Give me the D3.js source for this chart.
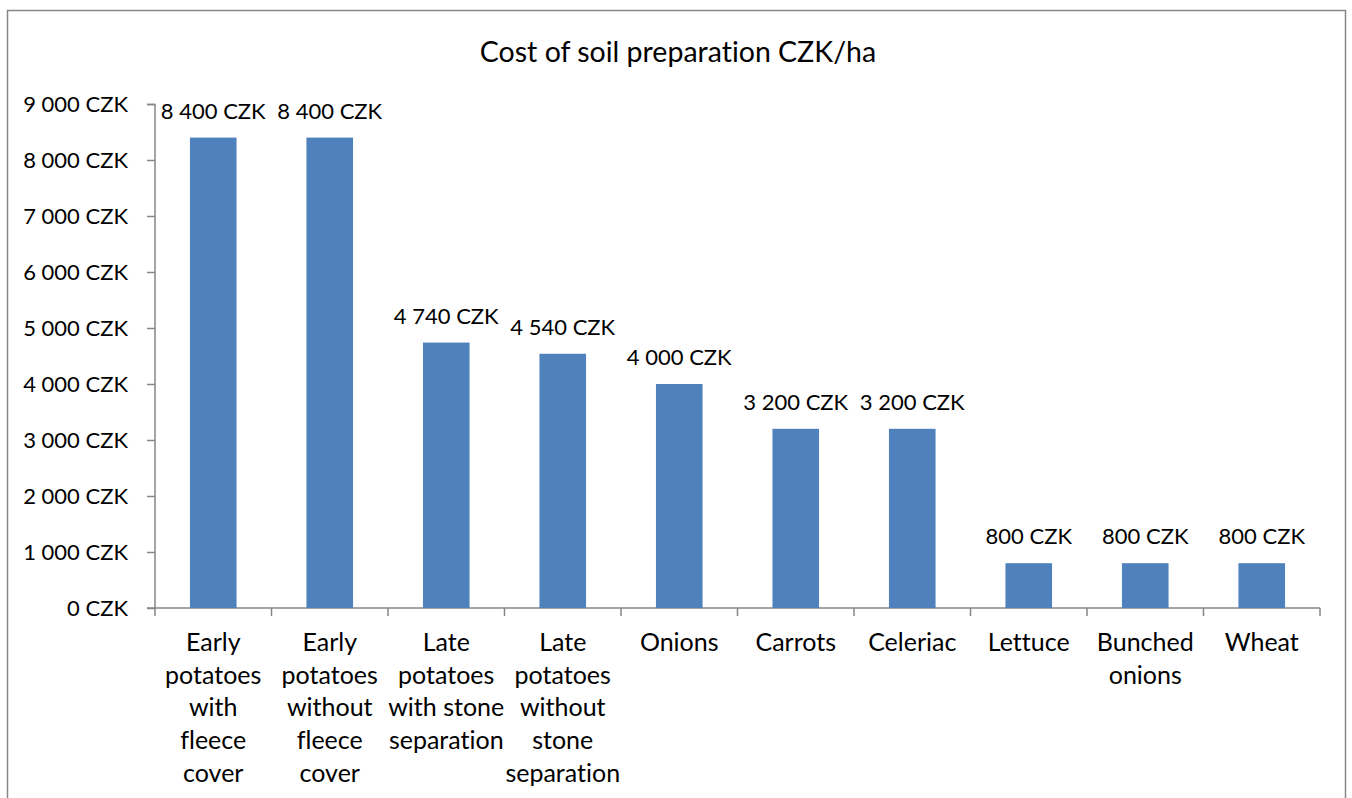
<html>
<head>
<meta charset="utf-8">
<script src="https://cdn.jsdelivr.net/npm/d3@7"></script>
<style>
  body { margin: 0; background: #fff; }
  text { font-family: Lato, "Open Sans", sans-serif; fill: #000; font-variant-ligatures: none; }
</style>
</head>
<body>
<svg width="1352" height="798"></svg>
<script>
// crops and their cost (CZK/ha)
var categories = [
    ["Early", "potatoes", "with", "fleece", "cover"],
    ["Early", "potatoes", "without", "fleece", "cover"],
    ["Late", "potatoes", "with stone", "separation"],
    ["Late", "potatoes", "without", "stone", "separation"],
    ["Onions"],
    ["Carrots"],
    ["Celeriac"],
    ["Lettuce"],
    ["Bunched", "onions"],
    ["Wheat"]
];
var costs = [8400, 8400, 4740, 4540, 4000, 3200, 3200, 800, 800, 800];
var yTicks = [0, 1000, 2000, 3000, 4000, 5000, 6000, 7000, 8000, 9000];

var svg = d3.select("svg");

// outer chart border
svg.append("rect")
    .attr("x", 7.5).attr("y", 10.5)
    .attr("width", 1338).attr("height", 820)
    .attr("fill", "none")
    .attr("stroke", "#868686")
    .attr("stroke-width", 1.5);

svg.append("text")
    .attr("x", 678).attr("y", 62)
    .attr("text-anchor", "middle")
    .style("font-size", "28.5px")
    .text("Cost of soil preparation CZK/ha");

var x = d3.scaleBand()
    .domain(d3.range(categories.length))
    .range([155, 1320]);

var y = d3.scaleLinear()
    .domain([0, 9000])
    .range([608, 104]);

var fmt = function(v) {
    return d3.format(",")(v).replace(/,/g, " ") + " CZK";
};

// y axis
var yAxis = svg.append("g")
    .attr("transform", "translate(155,0)")
    .call(d3.axisLeft(y).tickValues(yTicks).tickSize(8).tickPadding(19).tickFormat(fmt));
yAxis.selectAll("line, path").attr("stroke", "#868686").attr("stroke-width", 1.5);
yAxis.select(".domain").attr("d", "M-8,104.5H0V608");
yAxis.selectAll("text").style("font-size", "22px").attr("font-family", null);

// x axis with ticks between categories
var xAxis = svg.append("g").attr("transform", "translate(0,608)");
xAxis.append("line")
    .attr("x1", 147).attr("x2", 1320)
    .attr("stroke", "#868686").attr("stroke-width", 1.5);
xAxis.selectAll("line.tick")
    .data(d3.range(categories.length + 1))
    .enter().append("line")
    .attr("class", "tick")
    .attr("x1", function(i) { return i < categories.length ? x(i) : x.range()[1]; })
    .attr("x2", function(i) { return i < categories.length ? x(i) : x.range()[1]; })
    .attr("y1", 0).attr("y2", 8)
    .attr("stroke", "#868686").attr("stroke-width", 1.5);

// category labels, one tspan per line
xAxis.selectAll("text.cat")
    .data(categories)
    .enter().append("text")
    .attr("class", "cat")
    .attr("text-anchor", "middle")
    .style("font-size", "25px")
    .each(function(lines, i) {
        var t = d3.select(this);
        lines.forEach(function(line, j) {
            t.append("tspan")
                .attr("x", x(i) + x.bandwidth() / 2)
                .attr("y", 43 + j * 32.7)
                .text(line);
        });
    });

// bars
var barW = x.bandwidth() * 0.4;
svg.selectAll("rect.bar")
    .data(costs)
    .enter().append("rect")
    .attr("class", "bar")
    .attr("x", function(d, i) { return x(i) + (x.bandwidth() - barW) / 2; })
    .attr("y", function(d) { return y(d); })
    .attr("width", barW)
    .attr("height", function(d) { return y(0) - y(d); })
    .attr("fill", "#4F81BD");

// value labels
svg.selectAll("text.val")
    .data(costs)
    .enter().append("text")
    .attr("class", "val")
    .attr("x", function(d, i) { return x(i) + x.bandwidth() / 2; })
    .attr("y", function(d) { return y(d) - 19; })
    .attr("text-anchor", "middle")
    .style("font-size", "22px")
    .text(fmt);
</script>
</body>
</html>
